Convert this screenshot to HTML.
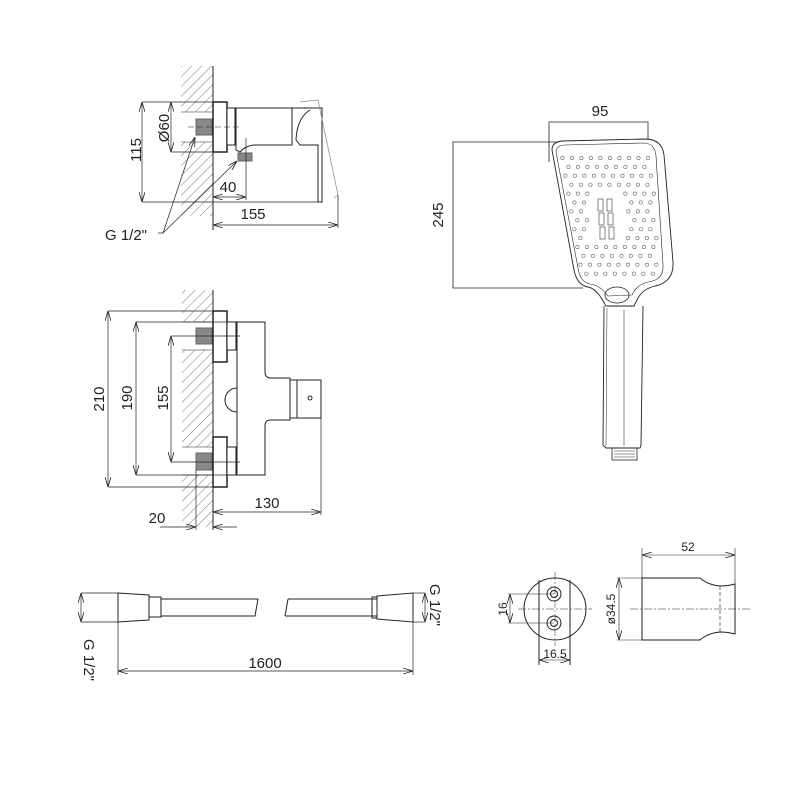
<!DOCTYPE html>
<html><head><meta charset="utf-8"><style>
html,body{margin:0;padding:0;background:#fff}
svg{display:block}
text{font-family:"Liberation Sans",sans-serif;fill:#222}
</style></head><body>
<svg id="s" width="800" height="800" viewBox="0 0 800 800" xmlns="http://www.w3.org/2000/svg">
<defs>
<pattern id="h" width="7" height="7" patternUnits="userSpaceOnUse" patternTransform="rotate(45)">
<line x1="0" y1="0" x2="0" y2="7" stroke="#555" stroke-width="0.8"/>
</pattern>
<marker id="a" markerWidth="10" markerHeight="6" refX="10" refY="3" orient="auto-start-reverse" markerUnits="userSpaceOnUse">
<path d="M0,0 L10,3 L0,6" fill="none" stroke="#222" stroke-width="0.8"/>
</marker>
</defs>
<g fill="none" stroke="#222" stroke-width="1">
<!-- TOP MIXER -->
<rect x="181" y="66" width="32" height="46" fill="url(#h)" stroke="none"/>
<rect x="181" y="142" width="32" height="74" fill="url(#h)" stroke="none"/>
<line x1="181" y1="112" x2="213" y2="112" stroke-width="0.6"/>
<line x1="181" y1="142" x2="213" y2="142" stroke-width="0.6"/>
<line x1="213" y1="66" x2="213" y2="230"/>
<rect x="196" y="119" width="16" height="16" fill="#888" stroke="#666"/>
<rect x="238" y="153" width="14" height="8" fill="#888" stroke="#666"/>
<rect x="213" y="102" width="14" height="50" stroke-width="1.5" fill="#fff"/>
<rect x="227" y="108" width="8" height="37" fill="#fff"/>
<path d="M236,108 L292,108 L292,145 L254,145 Q245,146 240,152 L236,150 Z" fill="#fff"/>
<path d="M292,108 L322,108 L322,202 L318,202 L318,145 L300,145 L296,140 Q297,118 310,110" fill="#fff"/>
<path d="M300,102 L318,100 L338,195 L334,198" stroke="#888" stroke-width="0.7"/>
<line x1="142" y1="102" x2="213" y2="102" stroke-width="0.7"/>
<line x1="142" y1="202" x2="322" y2="202" stroke-width="0.7"/>
<line x1="142" y1="102" x2="142" y2="202" stroke-width="0.7" marker-start="url(#a)" marker-end="url(#a)"/>
<line x1="171" y1="102" x2="171" y2="152" stroke-width="0.7" marker-start="url(#a)" marker-end="url(#a)"/>
<line x1="171" y1="152" x2="213" y2="152" stroke-width="0.7"/>
<line x1="188" y1="127" x2="240" y2="127" stroke-width="0.6" stroke-dasharray="6,3"/>
<line x1="246" y1="138" x2="246" y2="200" stroke-width="0.7"/>
<line x1="213" y1="197" x2="246" y2="197" stroke-width="0.7" marker-start="url(#a)" marker-end="url(#a)"/>
<line x1="338" y1="195" x2="338" y2="228" stroke-width="0.7"/>
<line x1="213" y1="225" x2="338" y2="225" stroke-width="0.7" marker-start="url(#a)" marker-end="url(#a)"/>
<polyline points="158,233 163,233 195,137" stroke-width="0.7" marker-end="url(#a)"/>
<line x1="163" y1="233" x2="237" y2="161" stroke-width="0.7" marker-end="url(#a)"/>

<!-- MIDDLE MIXER -->
<rect x="182" y="290" width="31" height="32" fill="url(#h)" stroke="none"/>
<rect x="182" y="350" width="31" height="97" fill="url(#h)" stroke="none"/>
<rect x="182" y="475" width="31" height="52" fill="url(#h)" stroke="none"/>
<line x1="182" y1="322" x2="213" y2="322" stroke-width="0.6"/>
<line x1="182" y1="350" x2="213" y2="350" stroke-width="0.6"/>
<line x1="182" y1="447" x2="213" y2="447" stroke-width="0.6"/>
<line x1="182" y1="475" x2="213" y2="475" stroke-width="0.6"/>
<line x1="213" y1="290" x2="213" y2="530"/>
<rect x="196" y="328" width="16" height="16" fill="#888" stroke="#666"/>
<rect x="196" y="453" width="16" height="17" fill="#888" stroke="#666"/>
<rect x="213" y="311" width="14" height="51" stroke-width="1.5" fill="#fff"/>
<rect x="213" y="437" width="14" height="50" stroke-width="1.5" fill="#fff"/>
<rect x="227" y="322" width="9" height="28" fill="#fff"/>
<rect x="227" y="447" width="9" height="28" fill="#fff"/>
<path d="M237,322 L265,322 L265,372 Q265,378 271,378 L290,378 L290,420 L271,420 Q265,420 265,426 L265,475 L237,475 Z" fill="#fff"/>
<path d="M237,388 A12,12 0 0 0 237,412"/>
<rect x="290" y="380" width="31" height="38" fill="#fff"/>
<line x1="297" y1="380" x2="297" y2="418"/>
<circle cx="310" cy="398" r="2"/>
<line x1="108" y1="311" x2="213" y2="311" stroke-width="0.7"/>
<line x1="108" y1="487" x2="213" y2="487" stroke-width="0.7"/>
<line x1="136" y1="322" x2="237" y2="322" stroke-width="0.7"/>
<line x1="136" y1="475" x2="237" y2="475" stroke-width="0.7"/>
<line x1="171" y1="336" x2="240" y2="336" stroke-width="0.7"/>
<line x1="171" y1="462" x2="240" y2="462" stroke-width="0.7"/>
<line x1="108" y1="311" x2="108" y2="487" stroke-width="0.7" marker-start="url(#a)" marker-end="url(#a)"/>
<line x1="136" y1="322" x2="136" y2="475" stroke-width="0.7" marker-start="url(#a)" marker-end="url(#a)"/>
<line x1="171" y1="336" x2="171" y2="462" stroke-width="0.7" marker-start="url(#a)" marker-end="url(#a)"/>
<line x1="321" y1="418" x2="321" y2="515" stroke-width="0.7"/>
<line x1="213" y1="512" x2="321" y2="512" stroke-width="0.7" marker-start="url(#a)" marker-end="url(#a)"/>
<line x1="196" y1="470" x2="196" y2="530" stroke-width="0.7"/>
<line x1="160" y1="527" x2="196" y2="527" stroke-width="0.7" marker-end="url(#a)"/>
<line x1="237" y1="527" x2="213" y2="527" stroke-width="0.7" marker-end="url(#a)"/>

<!-- SHOWER HEAD -->
<polyline points="549,162 549,122 648,122 648,165" stroke-width="0.8"/>
<polyline points="575,142 453,142 453,288 583,288" stroke-width="0.8"/>
<path d="M552,150 Q552,142 562,141 L645,139 Q662,139 664,155 L673,262 Q674,282 655,286 Q643,289 638,298 L634,306 L606,306 L600,296 Q594,288 588,287 Q577,285 574,270 Z" fill="#fff" stroke-width="0.9"/>
<path d="M556,152 Q556,146 564,145 L643,143 Q655,143 656,156 L663,265 Q664,280 648,282 Q636,285 632,295 L608,296 Q600,285 590,284 Q580,282 578,268 Z" stroke-width="0.6"/>
<ellipse cx="617" cy="295" rx="12" ry="8" stroke-width="0.8"/>
<path d="M604,306 L603,445 L606,448 L640,448 L641,445 L643,306" stroke-width="0.9"/>
<line x1="607" y1="308" x2="606" y2="446" stroke-width="0.5"/>
<line x1="624" y1="310" x2="624" y2="446" stroke-width="0.5"/>
<rect x="612" y="448" width="25" height="12" stroke-width="0.8"/>
<path d="M614,451 H635 M614,454 H635 M614,457 H635" stroke-width="0.5"/>
<g id="holes" stroke="#666" stroke-width="0.6"></g>
<g stroke="#666" stroke-width="0.8">
<rect x="598" y="199" width="5" height="12"/><rect x="607" y="199" width="5" height="12"/>
<rect x="599" y="213" width="5" height="12"/><rect x="608" y="213" width="5" height="12"/>
<rect x="600" y="227" width="5" height="12"/><rect x="609" y="227" width="5" height="12"/>
</g>

<!-- HOSE -->
<line x1="81" y1="593" x2="118" y2="593" stroke-width="0.7"/>
<line x1="81" y1="622" x2="118" y2="622" stroke-width="0.7"/>
<line x1="81" y1="593" x2="81" y2="622" stroke-width="0.7" marker-start="url(#a)" marker-end="url(#a)"/>
<path d="M118,593 L149,595 L149,620 L118,622 Z"/>
<rect x="149" y="597" width="12" height="20"/>
<path d="M161,599 L258,599 L255,616 L161,616"/>
<path d="M288,599 L377,599 M285,616 L377,616 M288,599 L285,616"/>
<rect x="372" y="597" width="5" height="21"/>
<path d="M377,596 L413,593 L413,622 L377,619 Z"/>
<line x1="413" y1="593" x2="425" y2="593" stroke-width="0.7"/>
<line x1="413" y1="622" x2="425" y2="622" stroke-width="0.7"/>
<line x1="425" y1="593" x2="425" y2="622" stroke-width="0.7" marker-start="url(#a)" marker-end="url(#a)"/>
<line x1="118" y1="622" x2="118" y2="675" stroke-width="0.7"/>
<line x1="413" y1="622" x2="413" y2="675" stroke-width="0.7"/>
<line x1="118" y1="671" x2="413" y2="671" stroke-width="0.7" marker-start="url(#a)" marker-end="url(#a)"/>

<!-- HOLDER FRONT -->
<circle cx="555" cy="609" r="31"/>
<line x1="539" y1="580" x2="539" y2="665"/>
<line x1="570" y1="580" x2="570" y2="665"/>
<circle cx="554" cy="594" r="7"/><circle cx="554" cy="594" r="3.5"/>
<circle cx="554" cy="623" r="7"/><circle cx="554" cy="623" r="3.5"/>
<line x1="518" y1="609" x2="592" y2="609" stroke-width="0.5" stroke-dasharray="8,2,2,2"/>
<line x1="555" y1="572" x2="555" y2="646" stroke-width="0.5" stroke-dasharray="8,2,2,2"/>
<line x1="508" y1="594" x2="554" y2="594" stroke-width="0.6"/>
<line x1="508" y1="623" x2="554" y2="623" stroke-width="0.6"/>
<line x1="510" y1="594" x2="510" y2="623" stroke-width="0.6" marker-start="url(#a)" marker-end="url(#a)"/>
<line x1="539" y1="660" x2="570" y2="660" stroke-width="0.6" marker-start="url(#a)" marker-end="url(#a)"/>
<!-- HOLDER SIDE -->
<path d="M642,578 L700,578 Q708,585 720,586 Q728,586 735,584 L735,634 Q728,632 720,632 Q708,633 700,640 L642,640 Z"/>
<line x1="720" y1="586" x2="720" y2="632" stroke-dasharray="4,2" stroke-width="0.6"/>
<line x1="630" y1="609" x2="752" y2="609" stroke-width="0.5" stroke-dasharray="8,2,2,2"/>
<line x1="642" y1="548" x2="642" y2="578" stroke-width="0.6"/>
<line x1="735" y1="548" x2="735" y2="584" stroke-width="0.6"/>
<line x1="642" y1="555" x2="735" y2="555" stroke-width="0.6" marker-start="url(#a)" marker-end="url(#a)"/>
<line x1="617" y1="578" x2="642" y2="578" stroke-width="0.6"/>
<line x1="617" y1="640" x2="642" y2="640" stroke-width="0.6"/>
<line x1="619" y1="578" x2="619" y2="640" stroke-width="0.6" marker-start="url(#a)" marker-end="url(#a)"/>
</g>
<g font-size="15">
<text x="141" y="150" text-anchor="middle" transform="rotate(-90 141 150)">115</text>
<text x="169" y="128" text-anchor="middle" transform="rotate(-90 169 128)">Ø60</text>
<text x="228" y="192" text-anchor="middle">40</text>
<text x="253" y="219" text-anchor="middle">155</text>
<text x="105" y="240">G 1/2"</text>
<text x="104" y="399" text-anchor="middle" transform="rotate(-90 104 399)">210</text>
<text x="132" y="398" text-anchor="middle" transform="rotate(-90 132 398)">190</text>
<text x="168" y="398" text-anchor="middle" transform="rotate(-90 168 398)">155</text>
<text x="267" y="508" text-anchor="middle">130</text>
<text x="157" y="523" text-anchor="middle">20</text>
<text x="600" y="116" text-anchor="middle">95</text>
<text x="443" y="215" text-anchor="middle" transform="rotate(-90 443 215)">245</text>
<text x="265" y="668" text-anchor="middle">1600</text>
<text x="430" y="605" text-anchor="middle" transform="rotate(90 430 605)">G 1/2"</text>
<text x="84" y="660" text-anchor="middle" transform="rotate(90 84 660)">G 1/2"</text>
</g>
<g font-size="12">
<text x="507" y="609" text-anchor="middle" transform="rotate(-90 507 609)">16</text>
<text x="555" y="658" text-anchor="middle">16.5</text>
<text x="688" y="551" text-anchor="middle">52</text>
<text x="615" y="609" text-anchor="middle" transform="rotate(-90 615 609)">ø34.5</text>
</g>
</svg>
<script>
(function(){
var g=document.getElementById('holes'),ns='http://www.w3.org/2000/svg';
for(var i=0;i<14;i++){
 var y=158+i*8.9;
 var t=(y-150)/130;
 var xl=561+t*22, xr=651+t*9;
 var off=(i%2)*4.5;
 for(var x=xl+off;x<=xr;x+=9.5){
  var inC=(x>588&&x<625&&y>186&&y<247);
  if(inC)continue;
  var c=document.createElementNS(ns,'circle');
  c.setAttribute('cx',x.toFixed(1));c.setAttribute('cy',y.toFixed(1));c.setAttribute('r','1.7');
  g.appendChild(c);
 }
}
})();
</script>
</body></html>
